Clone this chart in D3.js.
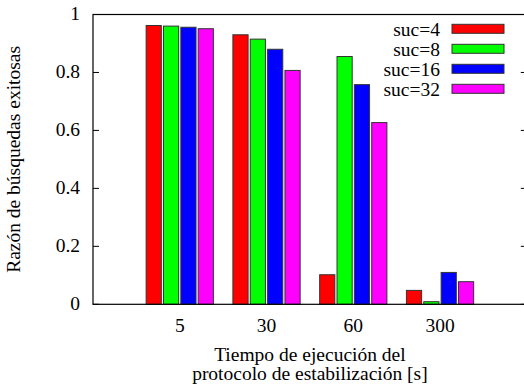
<!DOCTYPE html>
<html>

<head>
  <meta charset="UTF-8">
</head>

<body style="margin:0">
  <svg id="svg" width="524" height="385"></svg>
  <script src="https://cdnjs.cloudflare.com/ajax/libs/d3/7.8.5/d3.min.js"></script>
  <script>
    // tiempo de ejecución del protocolo (grupos)
    const tiempos = ['5', '30', '60', '300']
    const series = ['suc=4', 'suc=8', 'suc=16', 'suc=32']
    const colores = ['#ff0000', '#00ff00', '#0000ff', '#ff00ff']

    // valores por serie, en el orden de tiempos
    const suc4 = [0.962, 0.930, 0.102, 0.048]
    const suc8 = [0.960, 0.915, 0.855, 0.009]
    const suc16 = [0.956, 0.880, 0.758, 0.110]
    const suc32 = [0.951, 0.807, 0.627, 0.078]

    const yTicks = [0, 0.2, 0.4, 0.6, 0.8, 1]
    const yTickLabels = ['0', '0.2', '0.4', '0.6', '0.8', '1']

    const valores = [suc4, suc8, suc16, suc32]

    const dimension = {
      width: 524,
      height: 385,
      margin: {
        top: 14.5,
        right: -2.8,
        bottom: 80.7,
        left: 93
      }
    }

    const svg = d3.select('#svg')

    // same font on every text element
    const serif = sel => sel
      .attr('font-family', 'Liberation Serif')
      .attr('font-size', 19.5)
      .style('font-family', "'Liberation Serif'")

    const x0 = dimension.margin.left
    const x1 = dimension.width - dimension.margin.right
    const yTop = dimension.margin.top
    const yBottom = dimension.height - dimension.margin.bottom

    // gnuplot histogram: groups at 0..3, xrange [-1:4]
    const x = d3.scaleLinear().domain([-1, 4]).range([x0, x1])
    const y = d3.scaleLinear().domain([0, 1]).range([yBottom, yTop])

    const slot = 0.2
    const boxw = 0.175

    const barData = []
    valores.forEach((serie, j) => {
      serie.forEach((v, i) => {
        barData.push({ i, j, v })
      })
    })

    svg.append('g')
      .attr('id', 'bars')
      .selectAll('rect')
      .data(barData)
      .join('rect')
      .attr('x', d => x(d.i + (d.j - 1.5) * slot - boxw / 2))
      .attr('y', d => y(d.v))
      .attr('width', d => x(boxw) - x(0))
      .attr('height', d => y(0) - y(d.v))
      .attr('fill', d => colores[d.j])
      .attr('stroke', '#333')
      .attr('stroke-width', 1)

    // ticks en Y (izquierda y derecha, hacia dentro)
    const tickLen = 6
    const ticks = svg.append('g').attr('id', 'y-ticks')
    ticks.selectAll('line.left')
      .data(yTicks)
      .join('line')
      .attr('class', 'left')
      .attr('x1', x0).attr('x2', x0 + tickLen)
      .attr('y1', d => y(d)).attr('y2', d => y(d))
      .attr('stroke', '#000')
    ticks.selectAll('line.right')
      .data(yTicks)
      .join('line')
      .attr('class', 'right')
      .attr('x1', x1 - tickLen).attr('x2', x1)
      .attr('y1', d => y(d)).attr('y2', d => y(d))
      .attr('stroke', '#000')
    ticks.selectAll('text')
      .data(yTicks)
      .join('text')
      .attr('x', 80)
      .attr('y', d => y(d))
      .attr('dy', '0.3em')
      .attr('text-anchor', 'end')
      .call(serif)
      .text((d, i) => yTickLabels[i])

    // etiquetas en X
    svg.append('g')
      .attr('id', 'x-labels')
      .selectAll('text')
      .data(tiempos)
      .join('text')
      .attr('x', (d, i) => x(i))
      .attr('y', 332)
      .attr('text-anchor', 'middle')
      .call(serif)
      .text(d => d)

    // borde
    svg.append('rect')
      .attr('x', x0)
      .attr('y', yTop)
      .attr('width', x1 - x0)
      .attr('height', yBottom - yTop)
      .attr('fill', 'none')
      .attr('stroke', '#000')
      .attr('stroke-width', 1.2)

    // títulos
    const cx = (x0 + x1) / 2
    svg.append('text')
      .attr('x', cx)
      .attr('y', 361)
      .attr('text-anchor', 'middle')
      .call(serif)
      .text('Tiempo de ejecución del')
    svg.append('text')
      .attr('x', cx)
      .attr('y', 380)
      .attr('text-anchor', 'middle')
      .call(serif)
      .text('protocolo de estabilización [s]')

    svg.append('text')
      .attr('transform', `translate(20, ${(yTop + yBottom) / 2}) rotate(-90)`)
      .attr('text-anchor', 'middle')
      .call(serif)
      .text('Razón de búsquedas exitosas')

    // leyenda
    const legend = svg.append('g')
      .attr('id', 'legend')
      .selectAll('g')
      .data(series)
      .join('g')
      .attr('transform', (d, i) => `translate(0, ${28.8 + i * 20})`)

    legend.append('text')
      .attr('x', 440)
      .attr('y', 7)
      .attr('text-anchor', 'end')
      .call(serif)
      .text(d => d)

    legend.append('rect')
      .attr('x', 452)
      .attr('y', -4.5)
      .attr('width', 52)
      .attr('height', 9)
      .attr('fill', (d, i) => colores[i])
      .attr('stroke', '#333')
      .attr('stroke-width', 1)
  </script>
</body>

</html>
